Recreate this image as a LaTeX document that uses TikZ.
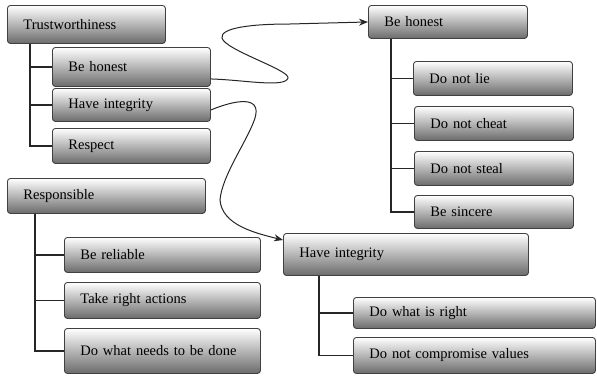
\documentclass[tikz,border=0pt]{standalone}
\usepackage{fontspec}
\setmainfont{Liberation Serif}
\usetikzlibrary{arrows.meta}
\tikzset{
  box/.style={draw=black!75, line width=0.9pt, rounded corners=3pt,
    top color=white, bottom color=black!58, anchor=north west,
    align=left, inner xsep=16pt, inner ysep=0pt,
    font=\fontsize{14.5}{16}\selectfont},
  elbow/.style={to path={|- (\tikztotarget)}},
  link/.style={draw=black!85, line width=1pt, -{Stealth[length=9pt,width=7pt]}}
}
\begin{document}
\begin{tikzpicture}[x=1pt, y=-1pt]
\useasboundingbox (0,0) rectangle (597,376);
\begin{scope}[every node/.style={box}]
  % left column
  \node (trust) [text width=126pt, minimum height=38pt] at (7,5) {Trustworthiness};
  \node (lhon) [text width=126pt, minimum height=39pt] at (52,47) {Be honest};
  \node (lint) [text width=126pt, minimum height=33pt] at (52,88) {Have integrity};
  \node (resp) [text width=126pt, minimum height=35pt] at (52,128) {Respect};
  \node (respons) [text width=166pt, minimum height=35pt] at (7,178) {Responsible};
  \node (reliable) [text width=164pt, minimum height=35pt] at (64,237) {Be reliable};
  \node (actions) [text width=164pt, minimum height=36pt] at (64,282) {Take right actions};
  \node (done) [text width=164pt, minimum height=45pt] at (64,328) {Do what needs to be done};
  % right column
  \node (rhon) [text width=127pt, minimum height=33pt] at (368,5) {Be honest};
  \node (lie) [text width=127pt, minimum height=34pt] at (413,61) {Do not lie};
  \node (cheat) [text width=127pt, minimum height=34pt] at (414,106) {Do not cheat};
  \node (steal) [text width=127pt, minimum height=34pt] at (414,151) {Do not steal};
  \node (sincere) [text width=127pt, minimum height=33pt] at (414,195) {Be sincere};
  \node (rint) [text width=213pt, minimum height=42pt] at (283,233) {Have integrity};
  \node (right) [text width=210pt, minimum height=31pt] at (353,297) {Do what is right};
  \node (values) [text width=210pt, minimum height=36pt] at (353,337) {Do not compromise values};
\end{scope}
\begin{scope}[every edge/.style={draw, black!85, line width=1.1pt, elbow}]
  \path ([xshift=23pt]trust.south west) edge (lhon.west) edge (lint.west) edge (resp.west);
  \path ([xshift=23pt]rhon.south west) edge (lie.west) edge (cheat.west) edge (steal.west) edge (sincere.west);
  \path ([xshift=28pt]respons.south west) edge (reliable.west) edge (actions.west) edge (done.west);
  \path ([xshift=36pt]rint.south west) edge (right.west) edge (values.west);
\end{scope}
% links between the two columns
\draw[link] ([yshift=-12pt]lhon.east) .. controls (245,80) and (285,88) .. (288,78)
  .. controls (290,70) and (225,50) .. (222,38)
  .. controls (220,28) and (250,24) .. (290,24) -- (rhon.west);
\draw[link] ([yshift=-5pt]lint.east) .. controls (235,100) and (262,95) .. (255,118)
  .. controls (248,140) and (222,175) .. (220,200)
  .. controls (222,225) and (255,233) .. ([yshift=-7pt]rint.north west);
\end{tikzpicture}
\end{document}
